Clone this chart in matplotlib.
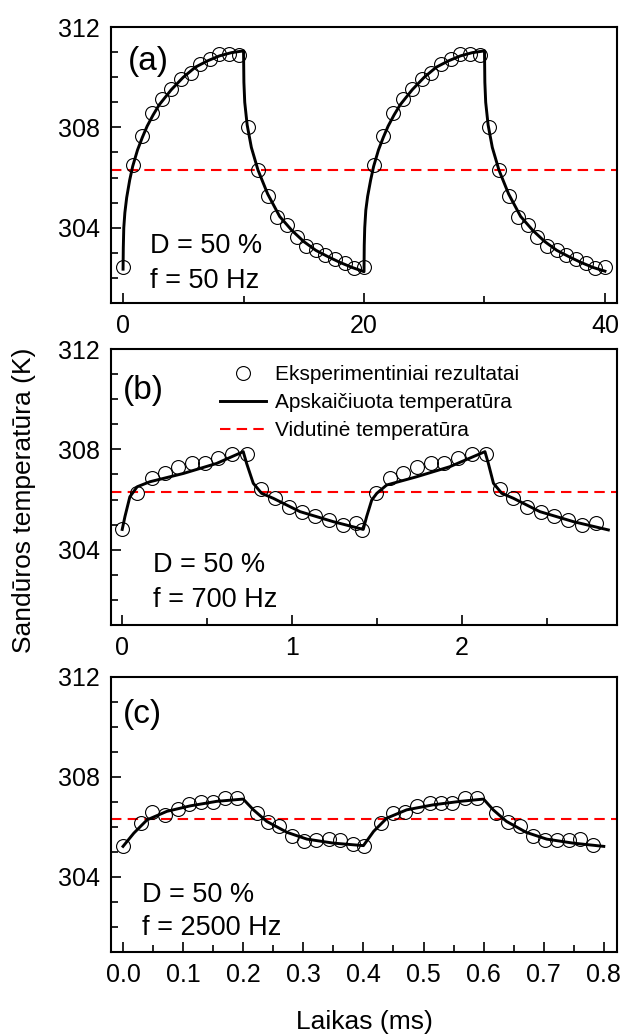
import matplotlib
matplotlib.use("Agg")
import matplotlib.pyplot as plt
from matplotlib.ticker import MultipleLocator
from matplotlib.lines import Line2D

plt.rcParams['font.family'] = ['Liberation Sans', 'DejaVu Sans']

# (a) f = 50 Hz, laikas ms
t_exp_a = [0, 0.8, 1.6, 2.4, 3.2, 4.0, 4.8, 5.6, 6.4, 7.2, 8.0, 8.8, 9.6,
           10.4, 11.2, 12.0, 12.8, 13.6, 14.4, 15.2, 16.0, 16.8, 17.6, 18.4, 19.2, 20.0,
           20.8, 21.6, 22.4, 23.2, 24.0, 24.8, 25.6, 26.4, 27.2, 28.0, 28.8, 29.6,
           30.4, 31.2, 32.0, 32.8, 33.6, 34.4, 35.2, 36.0, 36.8, 37.6, 38.4, 39.2, 40.0]
T_exp_a = [302.42, 306.5, 307.66, 308.58, 309.15, 309.55, 309.92, 310.15, 310.54, 310.74, 310.94, 310.94, 310.87,
           308.03, 306.3, 305.28, 304.41, 304.12, 303.63, 303.26, 303.1, 302.93, 302.77, 302.6, 302.4, 302.42,
           306.5, 307.66, 308.58, 309.15, 309.55, 309.92, 310.15, 310.54, 310.74, 310.94, 310.94, 310.87,
           308.03, 306.3, 305.28, 304.41, 304.12, 303.63, 303.26, 303.1, 302.93, 302.77, 302.6, 302.4, 302.42]
t_fit_a = [0, 0.02, 0.06, 0.15, 0.3, 0.55, 0.8, 1.2, 1.6, 2.0, 2.5, 3, 4, 5, 6, 7, 8, 9, 10,
           10.03, 10.1, 10.3, 10.65, 11.2, 12, 13, 14, 15, 16, 17, 18, 19, 20,
           20.02, 20.06, 20.15, 20.3, 20.55, 20.8, 21.2, 21.6, 22, 22.5, 23, 24, 25, 26, 27, 28, 29, 30,
           30.03, 30.1, 30.3, 30.65, 31.2, 32, 33, 34, 35, 36, 37, 38, 39, 40]
T_fit_a = [302.35, 303.2, 304.0, 304.6, 305.2, 305.9, 306.45, 307.1, 307.6, 308.05, 308.5, 308.9, 309.5, 310.0, 310.4, 310.65, 310.85, 310.98, 311.05,
           309.8, 309.0, 308.1, 307.2, 306.3, 305.35, 304.45, 303.9, 303.45, 303.1, 302.85, 302.62, 302.42, 302.25,
           303.3, 304.0, 304.7, 305.25, 305.9, 306.45, 307.1, 307.6, 308.05, 308.5, 308.9, 309.5, 310.0, 310.4, 310.65, 310.85, 310.98, 311.05,
           309.8, 309.0, 308.1, 307.2, 306.3, 305.35, 304.45, 303.9, 303.45, 303.1, 302.85, 302.62, 302.42, 302.27]

# (b) f = 700 Hz
t_exp_b = [0, 0.088, 0.173, 0.25, 0.33, 0.41, 0.49, 0.566, 0.648, 0.733,
           0.82, 0.9, 0.98, 1.057, 1.136, 1.22, 1.3, 1.377, 1.41,
           1.495, 1.578, 1.656, 1.739, 1.817, 1.896, 1.98, 2.059, 2.141,
           2.226, 2.305, 2.387, 2.466, 2.544, 2.629, 2.707, 2.79]
T_exp_b = [304.81, 306.27, 306.87, 307.07, 307.31, 307.47, 307.44, 307.64, 307.81, 307.80,
           306.41, 306.05, 305.72, 305.52, 305.36, 305.18, 304.98, 305.05, 304.79,
           306.27, 306.87, 307.07, 307.31, 307.47, 307.44, 307.64, 307.81, 307.80,
           306.41, 306.05, 305.72, 305.52, 305.36, 305.18, 304.98, 305.05]
t_fit_b = [0, 0.016, 0.045, 0.088, 0.163, 0.36, 0.556, 0.713, 0.733, 0.772, 0.821, 0.89, 1.047, 1.243, 1.42,
           1.44, 1.47, 1.5, 1.558, 1.735, 1.93, 2.137, 2.157, 2.187, 2.236, 2.305, 2.46, 2.658, 2.864]
T_fit_b = [304.81, 305.32, 306.11, 306.51, 306.71, 307.04, 307.44, 307.91, 307.44, 306.65, 306.25, 306.05, 305.52, 305.12, 304.81,
           305.32, 305.98, 306.25, 306.58, 306.91, 307.31, 307.91, 307.44, 306.65, 306.25, 306.05, 305.52, 305.12, 304.79]

# (c) f = 2500 Hz
t_exp_c = [0, 0.03, 0.049, 0.07, 0.091, 0.11, 0.13, 0.15, 0.17, 0.19,
           0.223, 0.242, 0.26, 0.281, 0.301, 0.321, 0.342, 0.361, 0.382, 0.401,
           0.43, 0.45, 0.469, 0.489, 0.51, 0.529, 0.548, 0.569, 0.589,
           0.62, 0.641, 0.661, 0.683, 0.702, 0.722, 0.742, 0.761, 0.782]
T_exp_c = [305.22, 306.15, 306.58, 306.48, 306.71, 306.92, 306.98, 306.98, 307.15, 307.15,
           306.55, 306.18, 306.02, 305.62, 305.45, 305.49, 305.53, 305.49, 305.33, 305.22,
           306.15, 306.55, 306.58, 306.82, 306.95, 306.95, 306.95, 307.15, 307.15,
           306.55, 306.18, 306.02, 305.65, 305.49, 305.49, 305.49, 305.51, 305.29]
t_fit_c = [0, 0.018, 0.04, 0.073, 0.112, 0.156, 0.2, 0.217, 0.239, 0.273, 0.306, 0.35, 0.4,
           0.417, 0.439, 0.472, 0.516, 0.561, 0.6, 0.616, 0.638, 0.671, 0.705, 0.749, 0.8]
T_fit_c = [305.22, 305.75, 306.28, 306.62, 306.84, 307.02, 307.11, 306.68, 306.22, 305.78, 305.51, 305.35, 305.25,
           305.82, 306.35, 306.68, 306.88, 307.02, 307.11, 306.68, 306.22, 305.78, 305.51, 305.35, 305.22]

T_avg = 306.3
labels = ['(a)', '(b)', '(c)']
freqs = ['f = 50 Hz', 'f = 700 Hz', 'f = 2500 Hz']
legend_labels = ['Eksperimentiniai rezultatai', 'Apskaičiuota temperatūra', 'Vidutinė temperatūra']

fig = plt.figure(figsize=(6.24, 10.36), dpi=100)

# axes positions (figure fraction)
boxes = [[0.1779, 0.7075, 0.8109, 0.2664],
         [0.1779, 0.3967, 0.8109, 0.2664],
         [0.1779, 0.0811, 0.8109, 0.2657]]
xlims = [(-1, 41), (-0.066, 2.915), (-0.02, 0.822)]
xmajor = [20, 1, 0.1]
xminor = [10, 0.5, 0.05]
label_pos = [(0.034, 0.875), (0.024, 0.848), (0.024, 0.862)]
text_x = [0.078, 0.082, 0.061]
text_y = [(0.181, 0.054), (0.192, 0.065), (0.182, 0.062)]

data = [(t_exp_a, T_exp_a, t_fit_a, T_fit_a),
        (t_exp_b, T_exp_b, t_fit_b, T_fit_b),
        (t_exp_c, T_exp_c, t_fit_c, T_fit_c)]

for i in range(3):
    ax = fig.add_axes(boxes[i])
    te, Te, tf, Tf = data[i]
    ax.axhline(T_avg, color='#ff0000', lw=1.5, dashes=(5, 3), zorder=1)
    ax.plot(te, Te, 'o', ms=10, mfc='none', mec='black', mew=0.8, zorder=2)
    ax.plot(tf, Tf, '-', color='black', lw=2.1, zorder=3)

    ax.set_xlim(*xlims[i])
    ax.set_ylim(301, 312)
    ax.xaxis.set_major_locator(MultipleLocator(xmajor[i]))
    ax.xaxis.set_minor_locator(MultipleLocator(xminor[i]))
    ax.yaxis.set_major_locator(MultipleLocator(4))
    ax.yaxis.set_minor_locator(MultipleLocator(1))
    if i == 2:
        ax.xaxis.set_major_formatter(plt.FormatStrFormatter('%.1f'))
    else:
        ax.xaxis.set_major_formatter(plt.FormatStrFormatter('%d'))

    ax.tick_params(which='both', direction='in', labelsize=18, pad=8, width=1.2,
                   top=False, right=False)
    ax.tick_params(which='major', length=7)
    ax.tick_params(which='minor', length=5)
    for s in ax.spines.values():
        s.set_linewidth(1.5)

    ax.text(label_pos[i][0], label_pos[i][1], labels[i], transform=ax.transAxes,
            fontsize=24, va='center', ha='left')
    ax.text(text_x[i], text_y[i][0], 'D = 50 %', transform=ax.transAxes,
            fontsize=19.5, va='baseline', ha='left')
    ax.text(text_x[i], text_y[i][1], freqs[i], transform=ax.transAxes,
            fontsize=19.5, va='baseline', ha='left')

    if i == 1:
        handles = [Line2D([], [], ls='none', marker='o', ms=10, mfc='none', mec='black', mew=0.8),
                   Line2D([], [], color='black', lw=2.1),
                   Line2D([], [], color='#ff0000', lw=1.5, dashes=(5, 3))]
        ax.legend(handles, legend_labels, loc='upper left', bbox_to_anchor=(0.2154, 0.941),
                  frameon=False, fontsize=15, borderpad=0, borderaxespad=0,
                  handlelength=2.2, handletextpad=0.45, labelspacing=0.42)

fig.text(0.0385, 0.5174, 'Sandūros temperatūra (K)', rotation=90, fontsize=19,
         ha='center', va='center')
fig.text(0.5833, 0.0135, 'Laikas (ms)', fontsize=19, ha='center', va='center')

plt.savefig('out.png', dpi=100)
